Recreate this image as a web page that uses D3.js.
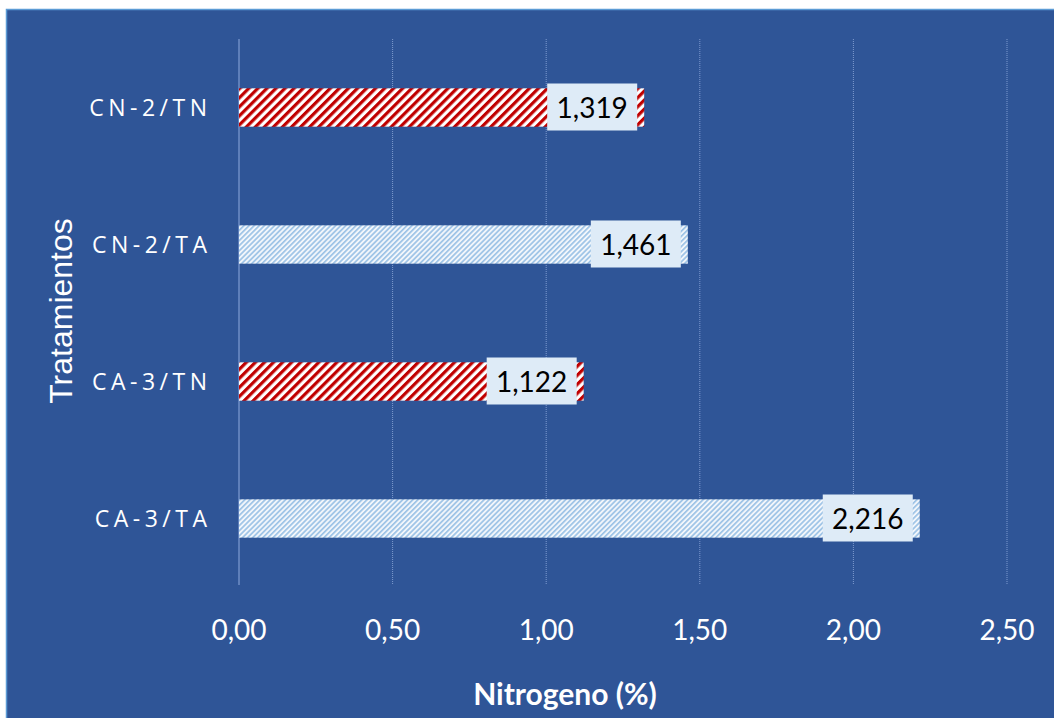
<!DOCTYPE html>
<html><head><meta charset="utf-8">
<script src="https://cdn.jsdelivr.net/npm/d3@7"></script>
<style>body{margin:0;background:#fff}svg{display:block}</style>
</head><body><svg id="c" width="1054" height="718"></svg>
<script>
const categories = ["CN-2/TN","CN-2/TA","CA-3/TN","CA-3/TA"];
const values = [1.319, 1.461, 1.122, 2.216];
const valueLabels = ["1,319","1,461","1,122","2,216"];
const seriesType = ["TN","TA","TN","TA"];
const ticks = [0,0.5,1,1.5,2,2.5];
const tickLabels = ["0,00","0,50","1,00","1,50","2,00","2,50"];

const svg = d3.select("#c");
svg.append("rect").attr("x",6.5).attr("y",9.5).attr("width",1054).attr("height",718)
  .attr("fill","#2F5597").attr("stroke","#5B9BD5").attr("stroke-width",1.5);

const defs = svg.append("defs");
const pr = defs.append("pattern").attr("id","pTN").attr("patternUnits","userSpaceOnUse")
  .attr("width",6.4).attr("height",6.4).attr("patternTransform","rotate(45)");
pr.append("rect").attr("width",6.4).attr("height",6.4).attr("fill","#ffffff");
pr.append("rect").attr("width",3.2).attr("height",6.4).attr("fill","#C00000");
const pb = defs.append("pattern").attr("id","pTA").attr("patternUnits","userSpaceOnUse")
  .attr("width",3.6).attr("height",3.6).attr("patternTransform","rotate(45)");
pb.append("rect").attr("width",3.6).attr("height",3.6).attr("fill","#F2F6FB");
pb.append("rect").attr("width",1.7).attr("height",3.6).attr("fill","#9DC3E6");

const x = d3.scaleLinear().domain([0,2.5]).range([239,1007]);
const y = d3.scaleBand().domain(categories).range([39,587]).paddingInner(0.72).paddingOuter(0.36);

// gridlines
svg.append("g").selectAll("line").data(ticks).join("line")
  .attr("x1",d=>x(d)).attr("x2",d=>x(d)).attr("y1",39).attr("y2",585)
  .attr("stroke",d=>d===0?"#8FAADC":"#7F9BCF").attr("stroke-width",1)
  .attr("stroke-dasharray",d=>d===0?null:"1,1");

// bars
svg.append("g").selectAll("rect").data(categories).join("rect")
  .attr("x",x(0)).attr("y",d=>y(d)).attr("height",y.bandwidth())
  .attr("width",(d,i)=>x(values[i])-x(0))
  .attr("fill",(d,i)=>`url(#p${seriesType[i]})`);

// value labels
const lg = svg.append("g").selectAll("g").data(categories).join("g")
  .attr("transform",(d,i)=>`translate(${x(values[i])-7},${y(d)+y.bandwidth()/2})`);
lg.append("rect").attr("x",-90).attr("y",-24).attr("width",90).attr("height",47).attr("fill","#DEEBF7");
lg.append("text").attr("x",-45).attr("y",10).attr("text-anchor","middle")
  .attr("font-family","Lato, 'Open Sans', sans-serif").attr("font-size",28).attr("fill","#000")
  .text((d,i)=>valueLabels[i]);

// y axis labels
svg.append("g").selectAll("text").data(categories).join("text")
  .attr("x",211.5).attr("y",d=>y(d)+y.bandwidth()/2+8).attr("text-anchor","end")
  .attr("font-family","'Open Sans', sans-serif").attr("font-size",23).attr("letter-spacing",4.5)
  .attr("fill","#fff").text(d=>d);

// x tick labels
svg.append("g").selectAll("text").data(ticks).join("text")
  .attr("x",d=>x(d)).attr("y",640).attr("text-anchor","middle")
  .attr("font-family","Lato, 'Open Sans', sans-serif").attr("font-size",28).attr("fill","#fff")
  .text((d,i)=>tickLabels[i]);

svg.append("text").attr("x",565).attr("y",705).attr("text-anchor","middle")
  .attr("font-family","Lato, 'Open Sans', sans-serif").attr("font-weight","bold").attr("font-size",30)
  .attr("fill","#fff").text("Nitrogeno (%)");

svg.append("text").attr("transform","translate(72,311) rotate(-90)").attr("text-anchor","middle")
  .attr("font-family","'Liberation Sans', Arial, sans-serif").attr("font-size",32)
  .attr("fill","#fff").text("Tratamientos");
</script></body></html>
